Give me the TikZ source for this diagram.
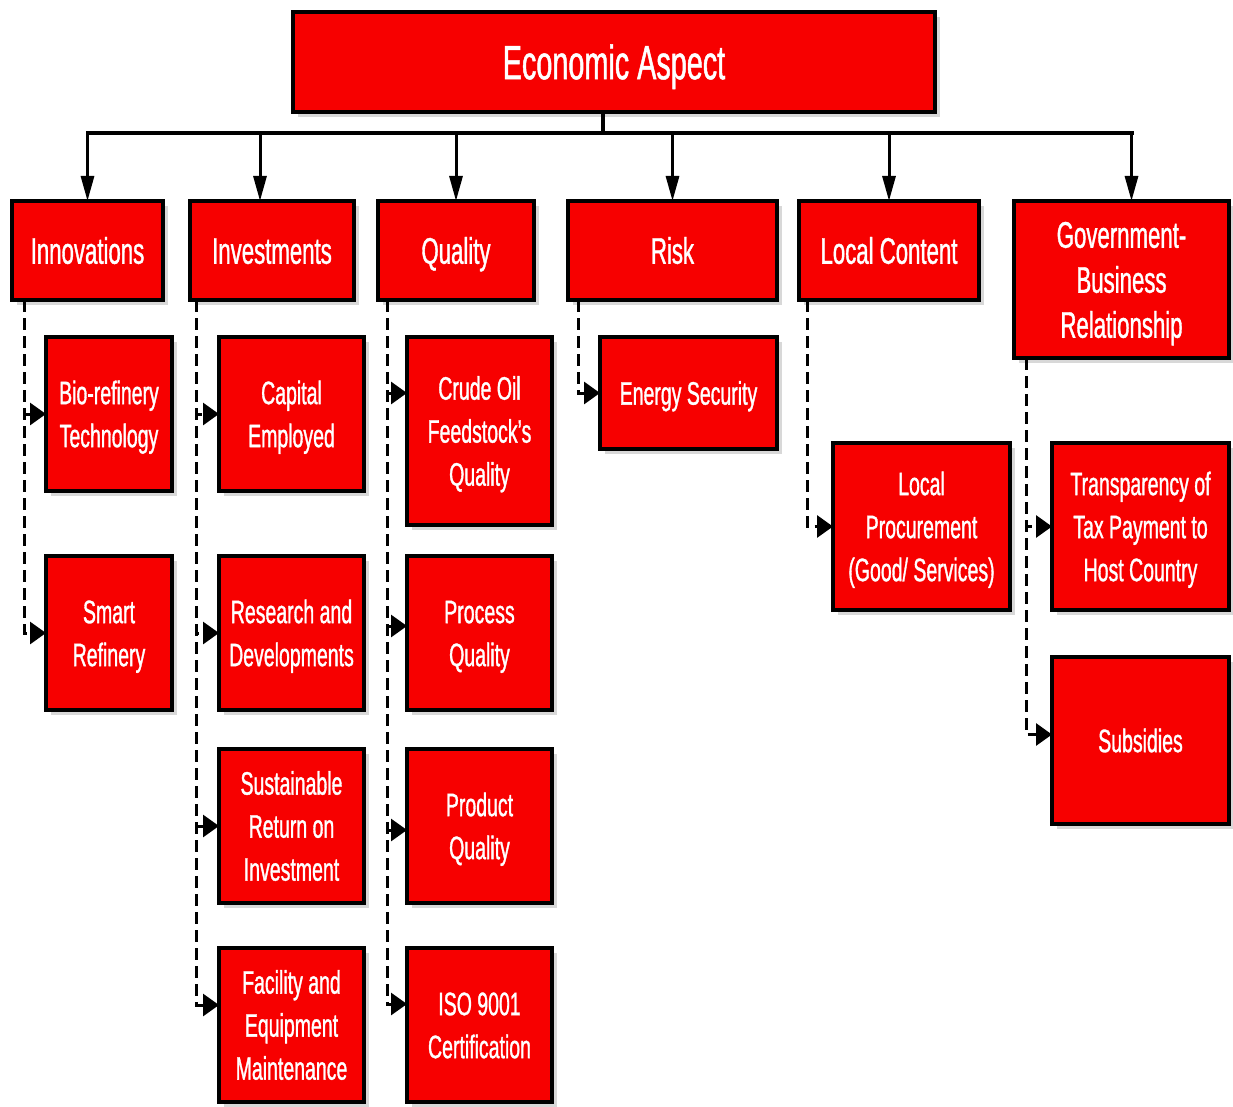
\documentclass[tikz,border=0pt]{standalone}
\usepackage{fontspec}
\setmainfont{Liberation Sans}[FakeStretch=0.6, FakeBold=1]
\usetikzlibrary{arrows.meta,shadows}

\definecolor{boxred}{RGB}{247,0,0}

\begin{document}
\begin{tikzpicture}[x=1pt,y=-1pt,
  box/.style={draw=black, fill=boxred, text=white, align=center,
    inner sep=0pt, outer sep=0pt, anchor=north west,
    drop shadow={shadow xshift=5pt, shadow yshift=-5pt, fill=black!30}},
  % fixed text box height and depth per number of lines, so that the
  % capitals sit in the middle of the box whatever the letters are
  headbox/.style={box, line width=4.5pt, font=\fontsize{48}{56}\selectfont,
    text height=45.4pt, text depth=11pt},
  catbox/.style={box, line width=4.5pt, font=\fontsize{37}{45}\selectfont,
    text depth=8.5pt, catlines=1},
  catlines/.style={text height={35pt+(#1-1)*45pt}},
  itembox/.style={box, line width=3.5pt, font=\fontsize{32.5}{43}\selectfont,
    text depth=7.5pt, itemlines=1},
  itemlines/.style={text height={30.8pt+(#1-1)*43pt}},
  busline/.style={line width=4pt, line cap=rect},
  drop/.style={line width=3pt, -{Triangle[length=25pt,width=13pt]}},
  dashlink/.style={line width=3pt, dash pattern=on 12pt off 6pt,
    -{Triangle[length=16pt,width=22pt]}},
]
\useasboundingbox (0,0) rectangle (1233,1107);

% root
\node[headbox, minimum width=642pt, minimum height=100pt] (top) at (293,12) {Economic Aspect};

% categories
\node[catbox, minimum width=151pt, minimum height=99pt] (innov)  at (12,201)   {Innovations};
\node[catbox, minimum width=164pt, minimum height=99pt] (invest) at (190,201)  {Investments};
\node[catbox, minimum width=156pt, minimum height=99pt] (qual)   at (378,201)  {Quality};
\node[catbox, minimum width=209pt, minimum height=99pt] (risk)   at (568,201)  {Risk};
\node[catbox, minimum width=180pt, minimum height=99pt] (local)  at (799,201)  {Local Content};
\node[catbox, catlines=3, minimum width=215pt, minimum height=157pt] (gov) at (1014,201) {Government-\\Business\\Relationship};

% items
\node[itembox, itemlines=2, minimum width=126pt, minimum height=154pt] (bio)      at (46,337)   {Bio-refinery\\Technology};
\node[itembox, itemlines=2, minimum width=126pt, minimum height=154pt] (smart)    at (46,556)   {Smart\\Refinery};
\node[itembox, itemlines=2, minimum width=145pt, minimum height=154pt] (capital)  at (219,337)  {Capital\\Employed};
\node[itembox, itemlines=2, minimum width=145pt, minimum height=154pt] (rnd)      at (219,556)  {Research and\\Developments};
\node[itembox, itemlines=3, minimum width=145pt, minimum height=154pt] (sroi)     at (219,749)  {Sustainable\\Return on\\Investment};
\node[itembox, itemlines=3, minimum width=145pt, minimum height=154pt] (facility) at (219,948)  {Facility and\\Equipment\\Maintenance};
\node[itembox, itemlines=3, minimum width=145pt, minimum height=188pt] (crude)    at (407,337)  {Crude Oil\\Feedstock’s\\Quality};
\node[itembox, itemlines=2, minimum width=145pt, minimum height=154pt] (process)  at (407,556)  {Process\\Quality};
\node[itembox, itemlines=2, minimum width=145pt, minimum height=154pt] (product)  at (407,749)  {Product\\Quality};
\node[itembox, itemlines=2, minimum width=145pt, minimum height=154pt] (iso)      at (407,948)  {ISO 9001\\Certification};
\node[itembox, minimum width=177pt, minimum height=112pt] (energy)   at (600,337)  {Energy Security};
\node[itembox, itemlines=3, minimum width=177pt, minimum height=167pt] (procure)  at (833,443)  {Local\\Procurement\\(Good/ Services)};
\node[itembox, itemlines=3, minimum width=177pt, minimum height=167pt] (transp)   at (1052,443) {Transparency of\\Tax Payment to\\Host Country};
\node[itembox, minimum width=177pt, minimum height=167pt] (subsid)   at (1052,657) {Subsidies};

% entry points on the category tops
\coordinate (innovIn)  at (innov.north);
\coordinate (investIn) at ([xshift=-12pt]invest.north);
\coordinate (qualIn)   at (qual.north);
\coordinate (riskIn)   at (risk.north);
\coordinate (localIn)  at (local.north);
\coordinate (govIn)    at ([xshift=10pt]gov.north);

% bus from the root to the categories
\coordinate (bus) at (603,133);
\coordinate (busR) at (893,133);
\draw[busline] (top.south -| bus) -- (bus);
\draw[busline] (innovIn |- bus) -- (localIn |- bus);
\draw[busline] (busR) -- (govIn |- bus);
\foreach \c in {innov,invest,qual,risk,local,gov}
  \draw[drop] (\c In |- bus) -- (\c In);

% dashed links to the items
\draw[dashlink] ([xshift=12pt]innov.south west) |- (bio.west);
\draw[dashlink] ([xshift=12pt]innov.south west) |- (smart.west);

\draw[dashlink] ([xshift=6pt]invest.south west) |- (capital.west);
\draw[dashlink] ([xshift=6pt]invest.south west) |- (rnd.west);
\draw[dashlink] ([xshift=6pt]invest.south west) |- (sroi.west);
\draw[dashlink] ([xshift=6pt]invest.south west) |- ([yshift=20pt]facility.west);

\draw[dashlink] ([xshift=9pt]qual.south west) |- ([yshift=38pt]crude.west);
\draw[dashlink] ([xshift=9pt]qual.south west) |- ([yshift=7pt]process.west);
\draw[dashlink] ([xshift=9pt]qual.south west) |- ([yshift=-4pt]product.west);
\draw[dashlink] ([xshift=9pt]qual.south west) |- ([yshift=21pt]iso.west);

\draw[dashlink] ([xshift=10pt]risk.south west) |- (energy.west);

\draw[dashlink] ([xshift=8pt]local.south west) |- (procure.west);

\draw[dashlink] ([xshift=12pt]gov.south west) |- (transp.west);
\draw[dashlink] ([xshift=12pt]gov.south west) |- ([yshift=6pt]subsid.west);
\end{tikzpicture}
\end{document}
